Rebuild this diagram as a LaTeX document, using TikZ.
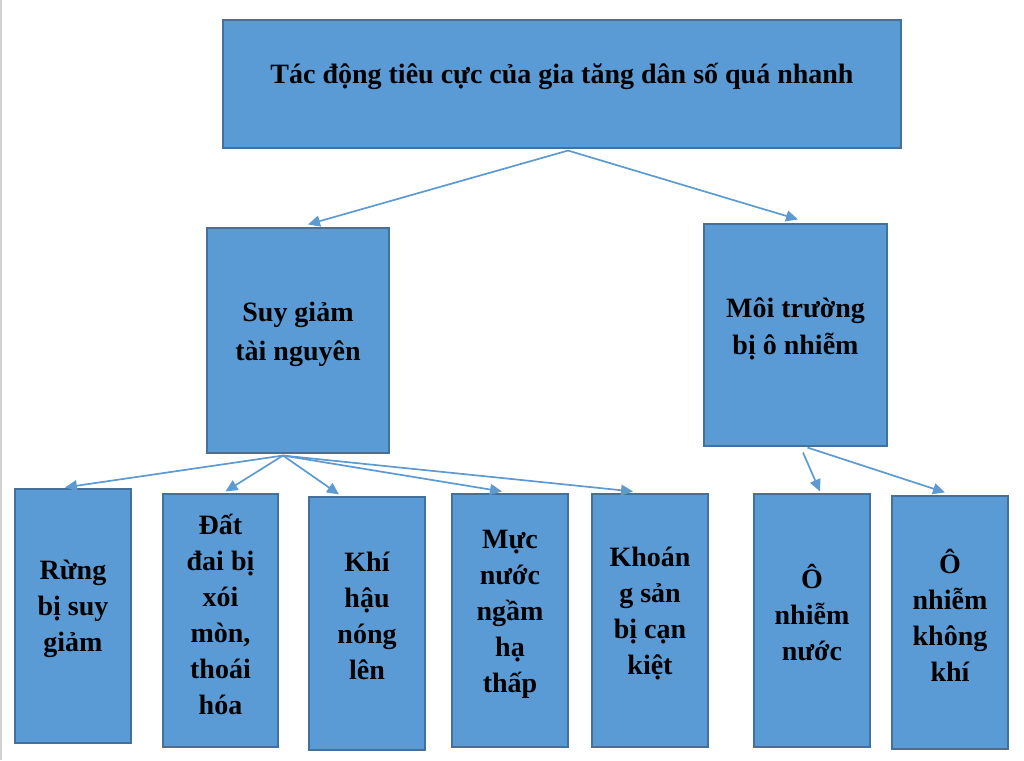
\documentclass[tikz,border=0pt]{standalone}
\usepackage{fontspec}
\setmainfont{Liberation Serif}
\usetikzlibrary{arrows.meta,calc}
\definecolor{boxfill}{HTML}{5B9BD5}
\definecolor{boxline}{HTML}{41719C}
\definecolor{arrowc}{HTML}{5E9AD2}
\begin{document}
\begin{tikzpicture}[x=1pt,y=-1pt,
  box/.style={draw=boxline,fill=boxfill,line width=1.1pt,rectangle,inner sep=0pt},
  lbl/.style={align=center,font=\bfseries\fontsize{28}{36}\selectfont,text=black,inner sep=0pt},
  conn/.style={draw=arrowc,line width=1.7pt,-{Triangle[length=12pt,width=11pt]}}]
\useasboundingbox (0,0) rectangle (1024,760);
\fill[white] (0,0) rectangle (1024,760);
\draw[gray!35,line width=2pt] (1,0) -- (1,760);
% boxes
\node[box,minimum width=678pt,minimum height=128pt] (top) at (562,84) {};
\node[box,minimum width=182pt,minimum height=225pt] (sg) at (298,340.5) {};
\node[box,minimum width=183pt,minimum height=222pt] (mt) at (795.5,335) {};
\node[box,minimum width=116pt,minimum height=254pt] (b1) at (73,616) {};
\node[box,minimum width=115pt,minimum height=253pt] (b2) at (220.5,620.5) {};
\node[box,minimum width=116pt,minimum height=253pt] (b3) at (367,623.5) {};
\node[box,minimum width=116pt,minimum height=253pt] (b4) at (510,620.5) {};
\node[box,minimum width=116pt,minimum height=253pt] (b5) at (650,620.5) {};
\node[box,minimum width=116pt,minimum height=253pt] (b6) at (812,620.5) {};
\node[box,minimum width=116pt,minimum height=253pt] (b7) at (950,622.5) {};
% labels
\node[lbl] (ttop) at (562,76) {Tác động tiêu cực của gia tăng dân số quá nhanh};
\node[lbl,font=\bfseries\fontsize{28}{39}\selectfont] (tsg) at (298,334) {Suy giảm\\tài nguyên};
\node[lbl,font=\bfseries\fontsize{28}{37}\selectfont] (tmt) at (795.5,329) {Môi trường\\bị ô nhiễm};
\node[lbl] (t1) at (73,609) {Rừng\\bị suy\\giảm};
\node[lbl] (t2) at (220.5,614) {Đất\\đai bị\\xói\\mòn,\\thoái\\hóa};
\node[lbl] (t3) at (367,616) {Khí\\hậu\\nóng\\lên};
\node[lbl] (t4) at (510,614) {Mực\\nước\\ngầm\\hạ\\thấp};
\node[lbl] (t5) at (650,614) {Khoán\\g sản\\bị cạn\\kiệt};
\node[lbl] (t6) at (812,613) {Ô\\nhiễm\\nước};
\node[lbl] (t7) at (950,615) {Ô\\nhiễm\\không\\khí};
% connectors
\coordinate (ts) at ($(top.south)+(6,2)$);
\draw[conn] (ts) -- ($(sg.north)+(10,-3)$);
\draw[conn] (ts) -- ($(mt.north)+(2.5,-4)$);
\coordinate (ss) at ($(sg.south)+(-15,2)$);
\draw[conn] (ss) -- ($(b1.north)+(-8,-1)$);
\draw[conn] (ss) -- ($(b2.north)+(5,-2)$);
\draw[conn] (ss) -- ($(b3.north)+(-28,-2)$);
\draw[conn] (ss) -- ($(b4.north)+(-8,-2)$);
\draw[conn] (ss) -- ($(b5.north)+(-17,-2)$);
\coordinate (ms1) at ($(mt.south)+(7.5,6)$);
\draw[conn] (ms1) -- ($(b6.north)+(8,-2)$);
\coordinate (ms2) at ($(mt.south)+(12,1)$);
\draw[conn] (ms2) -- ($(b7.north)+(-5,-3)$);
\end{tikzpicture}
\end{document}
